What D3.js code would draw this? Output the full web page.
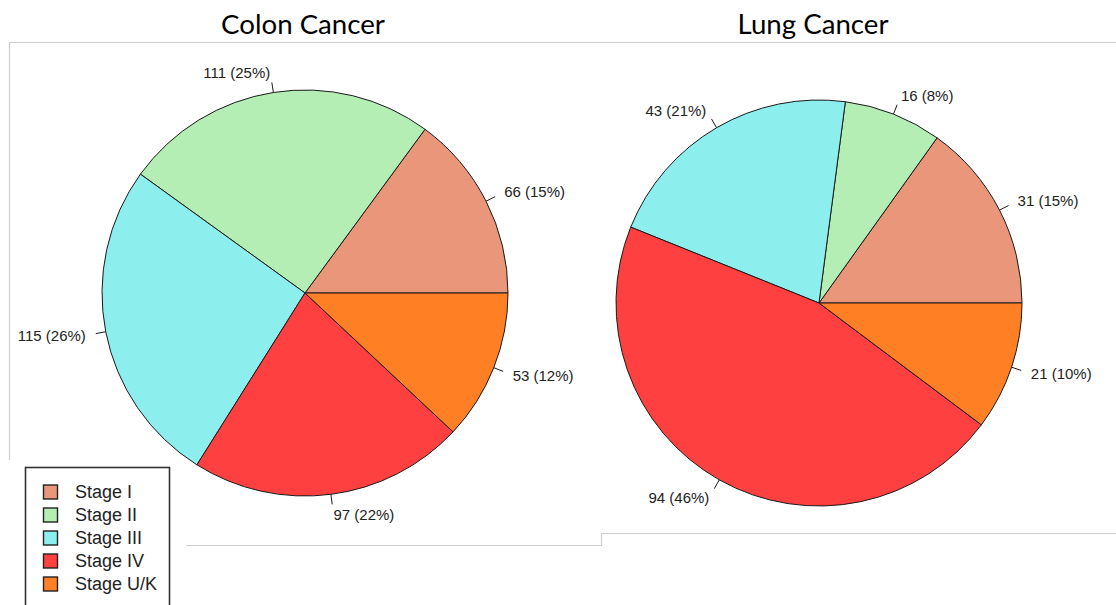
<!DOCTYPE html>
<html>
<head>
<meta charset="utf-8">
<script src="https://cdn.jsdelivr.net/npm/d3@7"></script>
<style>
  html, body { margin: 0; padding: 0; background: #fff; }
  svg { display: block; }
</style>
</head>
<body>
<script>
// ---- data ----
const stages = ["Stage I", "Stage II", "Stage III", "Stage IV", "Stage U/K"];
const colonCounts = [66, 111, 115, 97, 53];
const lungCounts = [31, 16, 43, 94, 21];
const chartTitles = ["Colon Cancer", "Lung Cancer"];
const stageColors = ["#E9967A", "#B4EEB4", "#8DEEEE", "#FF4040", "#FF7F24"];

const W = 1116, H = 605;
const svg = d3.select("body").append("svg").attr("width", W).attr("height", H);
svg.append("rect").attr("width", W).attr("height", H).attr("fill", "#fff");

// pasted-image frame lines
const frame = svg.append("g").attr("stroke", "#cfcfcf").attr("stroke-width", 1.2).attr("fill", "none");
frame.append("path").attr("d", "M9.5,460 L9.5,42.5 L1116,42.5");
frame.append("path").attr("d", "M186,545.5 L601.5,545.5 L601.5,533.5 L1116,533.5");

const color = d3.scaleOrdinal().domain(stages).range(stageColors);

const charts = [
  { title: chartTitles[0], counts: colonCounts, cx: 305, cy: 293, r: 203, tx: 303, tw: 164 },
  { title: chartTitles[1], counts: lungCounts, cx: 819, cy: 303, r: 203, tx: 813, tw: 151 }
];

const pie = d3.pie().sort(null).value(d => d.v)
  .startAngle(Math.PI / 2).endAngle(Math.PI / 2 - 2 * Math.PI);

charts.forEach(c => {
  const data = stages.map((s, i) => ({ s, v: c.counts[i] }));
  const total = d3.sum(c.counts);
  const arcs = pie(data);
  const arc = d3.arc().innerRadius(0).outerRadius(c.r);
  const g = svg.append("g").attr("transform", `translate(${c.cx},${c.cy})`);
  g.selectAll("path.slice").data(arcs).join("path")
    .attr("class", "slice")
    .attr("d", arc)
    .attr("fill", d => color(d.data.s))
    .attr("stroke", "#1a1a1a").attr("stroke-width", 1);

  arcs.forEach(d => {
    const a = (d.startAngle + d.endAngle) / 2;
    const sx = Math.sin(a), sy = -Math.cos(a);
    g.append("line")
      .attr("x1", sx * c.r).attr("y1", sy * c.r)
      .attr("x2", sx * c.r * 1.05).attr("y2", sy * c.r * 1.05)
      .attr("stroke", "#1a1a1a").attr("stroke-width", 1);
    g.append("text")
      .attr("x", sx * c.r * 1.1).attr("y", sy * c.r * 1.1)
      .attr("dy", "0.36em")
      .attr("text-anchor", sx >= 0 ? "start" : "end")
      .attr("font-family", "Liberation Sans, Arial, sans-serif")
      .attr("font-size", 15)
      .attr("fill", "#222")
      .text(`${d.data.v} (${Math.round(d.data.v / total * 100)}%)`);
  });

  const t = svg.append("text")
    .attr("x", c.tx).attr("y", 34)
    .attr("text-anchor", "middle")
    .attr("font-family", "Lato, 'Open Sans', sans-serif")
    .attr("font-size", 30)
    .attr("fill", "#000")
    .text(c.title);
  const w = t.node().getComputedTextLength();
  t.attr("font-size", 30 * c.tw / w);
});

// legend
const lg = svg.append("g");
lg.append("rect").attr("x", 25.5).attr("y", 467.5).attr("width", 144).attr("height", 150)
  .attr("fill", "#fff").attr("stroke", "#333").attr("stroke-width", 1.6);
const ly = d3.scalePoint().domain(stages).range([492, 584]);
stages.forEach(s => {
  lg.append("rect").attr("x", 43.5).attr("y", ly(s) - 7).attr("width", 14).attr("height", 14)
    .attr("fill", color(s)).attr("stroke", "#222").attr("stroke-width", 1.4);
  lg.append("text").attr("x", 75).attr("y", ly(s)).attr("dy", "0.36em")
    .attr("font-family", "Liberation Sans, Arial, sans-serif")
    .attr("font-size", 18).attr("fill", "#222").text(s);
});
</script>
</body>
</html>
